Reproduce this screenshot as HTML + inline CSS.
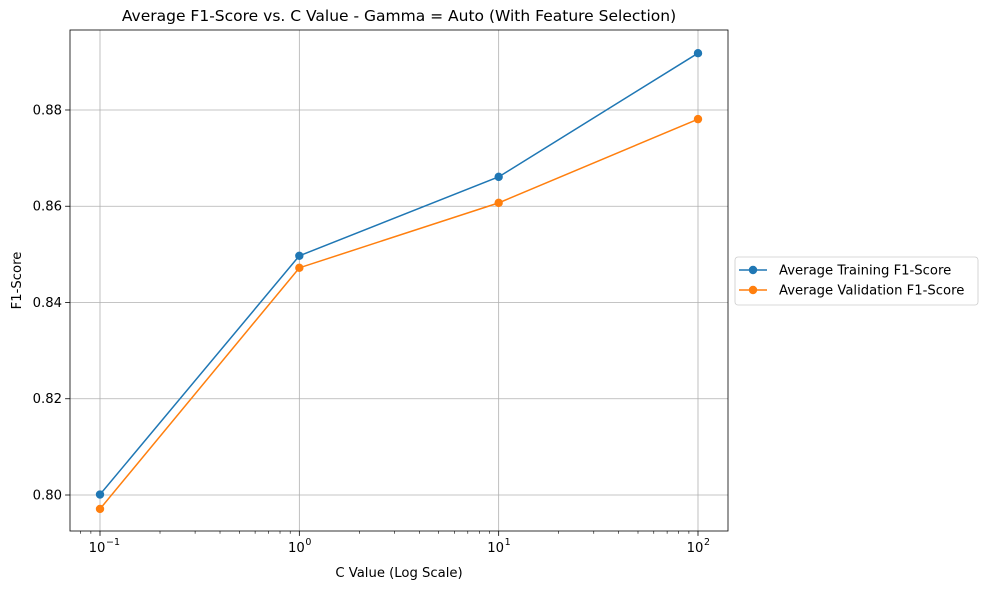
<!DOCTYPE html>
<html><head><meta charset="utf-8"><style>
body{margin:0;background:#fff}
svg text{font-family:"DejaVu Sans","Liberation Sans",sans-serif;fill:#000}
</style></head><body>
<svg id="chart" width="989" height="590" viewBox="0 0 989 590" xmlns="http://www.w3.org/2000/svg">
<rect width="989" height="590" fill="#fff"/>
<g id="grid"></g><g id="axes"></g><g id="series"></g><g id="legend"></g>
</svg>
<script>
const cValues=[0.1,1,10,100];
const trainF1=[0.8001,0.8497,0.8661,0.8918];
const valF1=[0.7971,0.8472,0.8607,0.8781];
const yTicks=[0.80,0.82,0.84,0.86,0.88];
const yTickLabels=["0.80","0.82","0.84","0.86","0.88"];
const xTickExps=[-1,0,1,2];
const seriesNames=["Average Training F1-Score","Average Validation F1-Score"];
const colors=["#1f77b4","#ff7f0e"];

const L=70,R=728,T=30,B=531;
const xMin=-1.1505,xMax=2.1505,yMin=0.79252,yMax=0.89662;
const NS="http://www.w3.org/2000/svg";
function X(v){return L+(Math.log10(v)-xMin)/(xMax-xMin)*(R-L);}
function Y(v){return B-(v-yMin)/(yMax-yMin)*(B-T);}
function mk(tag,attrs,parent,text){const e=document.createElementNS(NS,tag);for(const k in attrs)e.setAttribute(k,attrs[k]);if(text!=null)e.textContent=text;parent.appendChild(e);return e;}
const grid=document.getElementById('grid'),axes=document.getElementById('axes'),series=document.getElementById('series'),legend=document.getElementById('legend');

yTicks.forEach((t,i)=>{const y=Y(t);
 const g=mk('line',{x1:L,x2:R,y1:y,y2:y,stroke:'#b0b0b0','stroke-width':0.8},grid);
 
 
 mk('line',{x1:L-4.9,x2:L,y1:y,y2:y,stroke:'#000','stroke-width':0.8},axes);
 const tx=mk('text',{x:L-8,y:y+4.5,'text-anchor':'end','font-size':13.2},axes,yTickLabels[i]);
 
 
});
xTickExps.forEach(e=>{const x=X(Math.pow(10,e));
 const g=mk('line',{x1:x,x2:x,y1:T,y2:B,stroke:'#b0b0b0','stroke-width':0.8},grid);
 
 
 mk('line',{x1:x,x2:x,y1:B,y2:B+4.9,stroke:'#000','stroke-width':0.8},axes);
 const tx=mk('text',{x:x-3,y:B+21,'text-anchor':'middle','font-size':13.2},axes,'10');
 
 
 mk('text',{x:x+6,y:B+14,'text-anchor':'start','font-size':9.5},axes,String(e).replace('-','−'));
});
for(let e=-2;e<=2;e++){for(let m=2;m<=9;m++){const v=m*Math.pow(10,e);const x=X(v);if(x<L||x>R)continue;
 mk('line',{x1:x,x2:x,y1:B,y2:B+2.8,stroke:'#000','stroke-width':0.6},axes);}}
const frame=mk('rect',{x:L,y:T,width:R-L,height:B-T,fill:'none',stroke:'#000','stroke-width':0.8},axes);


const title=mk('text',{x:(L+R)/2,y:T-9,'text-anchor':'middle','font-size':15.5},axes,'Average F1-Score vs. C Value - Gamma = Auto (With Feature Selection)');


const xt=mk('text',{x:(L+R)/2,y:577,'text-anchor':'middle','font-size':13.2},axes,'C Value (Log Scale)');


const yt=mk('text',{x:0,y:0,'text-anchor':'middle','font-size':13.2,transform:`translate(21,${(T+B)/2}) rotate(-90)`},axes,'F1-Score');



[trainF1,valF1].forEach((d,si)=>{
 const pts=d.map((v,i)=>X(cValues[i])+','+Y(v)).join(' ');
 const pl=mk('polyline',{points:pts,fill:'none',stroke:colors[si],'stroke-width':1.5},series);
 
 
 d.forEach((v,i)=>{const c=mk('circle',{cx:X(cValues[i]),cy:Y(v),r:4.2,fill:colors[si]},series);
  
  });
});

const lb=mk('rect',{x:735,y:257,width:243,height:48,rx:3,fill:'#fff',stroke:'#ccc','stroke-width':0.8},legend);


seriesNames.forEach((n,i)=>{const y=270+i*20;
 mk('line',{x1:739,x2:767,y1:y,y2:y,stroke:colors[i],'stroke-width':1.5},legend);
 mk('circle',{cx:753,cy:y,r:4.2,fill:colors[i]},legend);
 const t=mk('text',{x:779,y:y+4.5,'font-size':13.2},legend,n);
 
 
});
</script>
</body></html>
